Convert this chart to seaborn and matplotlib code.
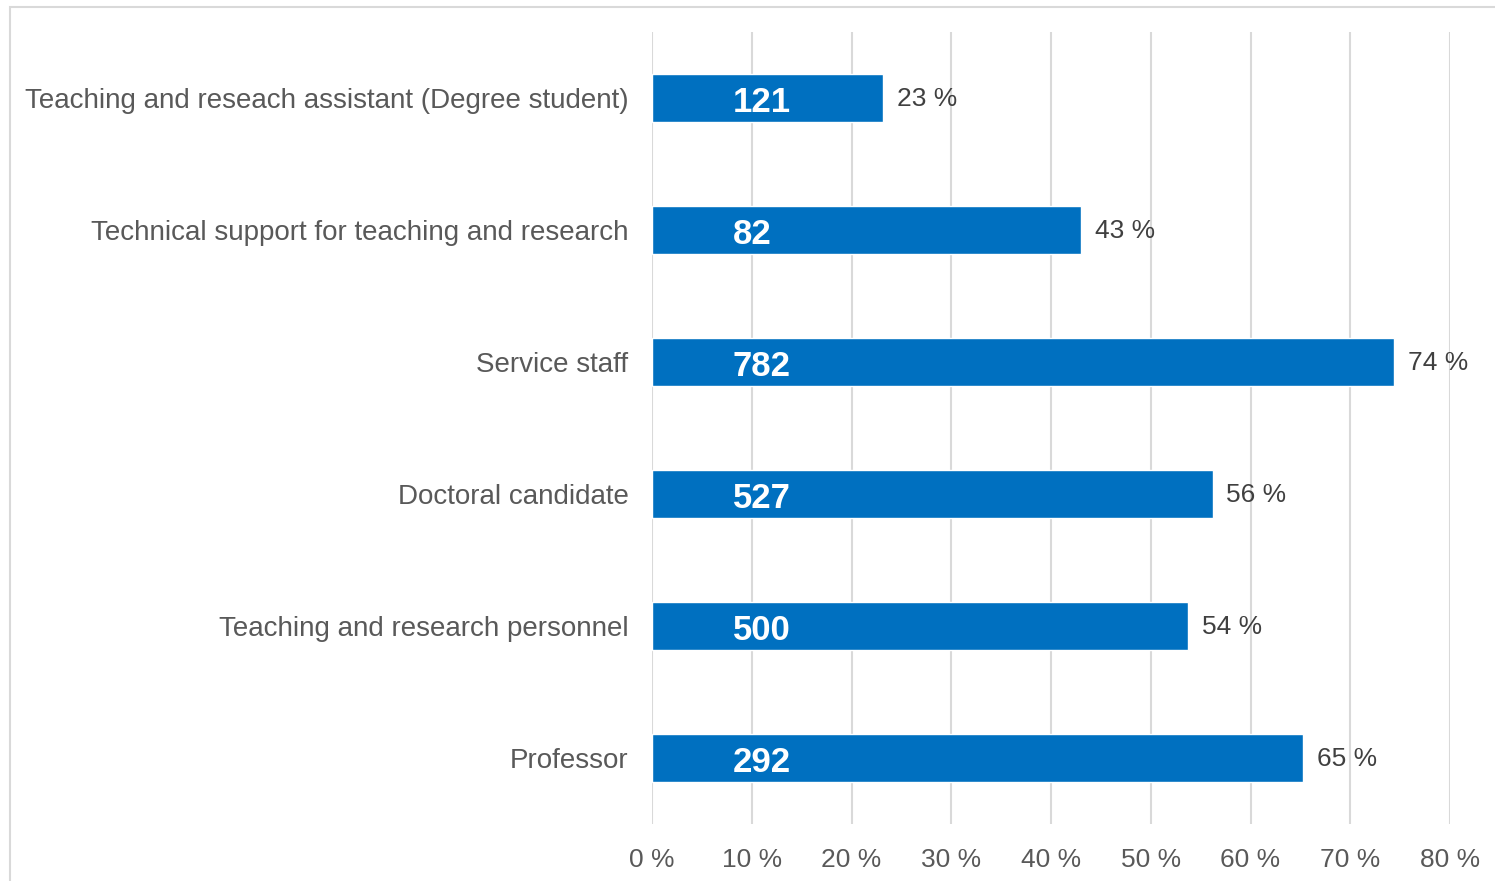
import pandas as pd
import numpy as np
import matplotlib.pyplot as plt
import seaborn as sns
from matplotlib.patches import Rectangle

# ================================
# DATA
# ================================
categories = [
    "Teaching and reseach assistant (Degree student)",
    "Technical support for teaching and research",
    "Service staff",
    "Doctoral candidate",
    "Teaching and research personnel",
    "Professor",
]
shares = [23.2, 43.0, 74.4, 56.2, 53.7, 65.3]
counts = [121, 82, 782, 527, 500, 292]
x_ticks = [0, 10, 20, 30, 40, 50, 60, 70, 80]

df = pd.DataFrame({"category": categories, "share": shares, "count": counts})

# ================================
# STYLE
# ================================
sns.set_theme(style="white")
plt.rcParams["font.family"] = ["Liberation Sans", "DejaVu Sans"]

fig = plt.figure(figsize=(14.95, 8.81), dpi=100)
ax = fig.add_axes([652 / 1495, 57 / 881, (1450 - 652) / 1495, (824 - 32) / 881])

sns.barplot(data=df, x="share", y="category", order=categories,
            color="#0070C0", saturation=1, width=0.37, orient="h", ax=ax)

ax.set_xlim(0, 80)
ax.set_xticks(x_ticks)
ax.set_xticklabels([f"{t} %" for t in x_ticks])
ax.set_xlabel("")
ax.set_ylabel("")
ax.grid(axis="x", color="#D9D9D9", linewidth=1.5)
ax.grid(axis="y", visible=False)
ax.set_axisbelow(True)
for s in ax.spines.values():
    s.set_visible(False)
ax.tick_params(axis="x", length=0, pad=17, labelsize=19, labelcolor="#595959")
ax.tick_params(axis="y", length=0, pad=17, labelsize=20, labelcolor="#595959")

# percentage labels at the bar ends, counts inside at the base
for i, (v, c) in enumerate(zip(shares, counts)):
    ax.annotate(f"{round(v)} %", xy=(v, i), xytext=(10, -1),
                textcoords="offset points", ha="left", va="center",
                fontsize=19, color="#404040")
    ax.annotate(str(c), xy=(0, i), xytext=(58, -3), textcoords="offset points",
                ha="left", va="center", fontsize=25, fontweight="bold",
                color="white")

# chart frame (left and top edges visible)
fig.patches.append(Rectangle((10 / 1495, -0.5), 2, 1.5 - 7 / 881,
                             transform=fig.transFigure, fill=False,
                             edgecolor="#D9D9D9", linewidth=1.5))

fig.savefig("out.png", dpi=100)
